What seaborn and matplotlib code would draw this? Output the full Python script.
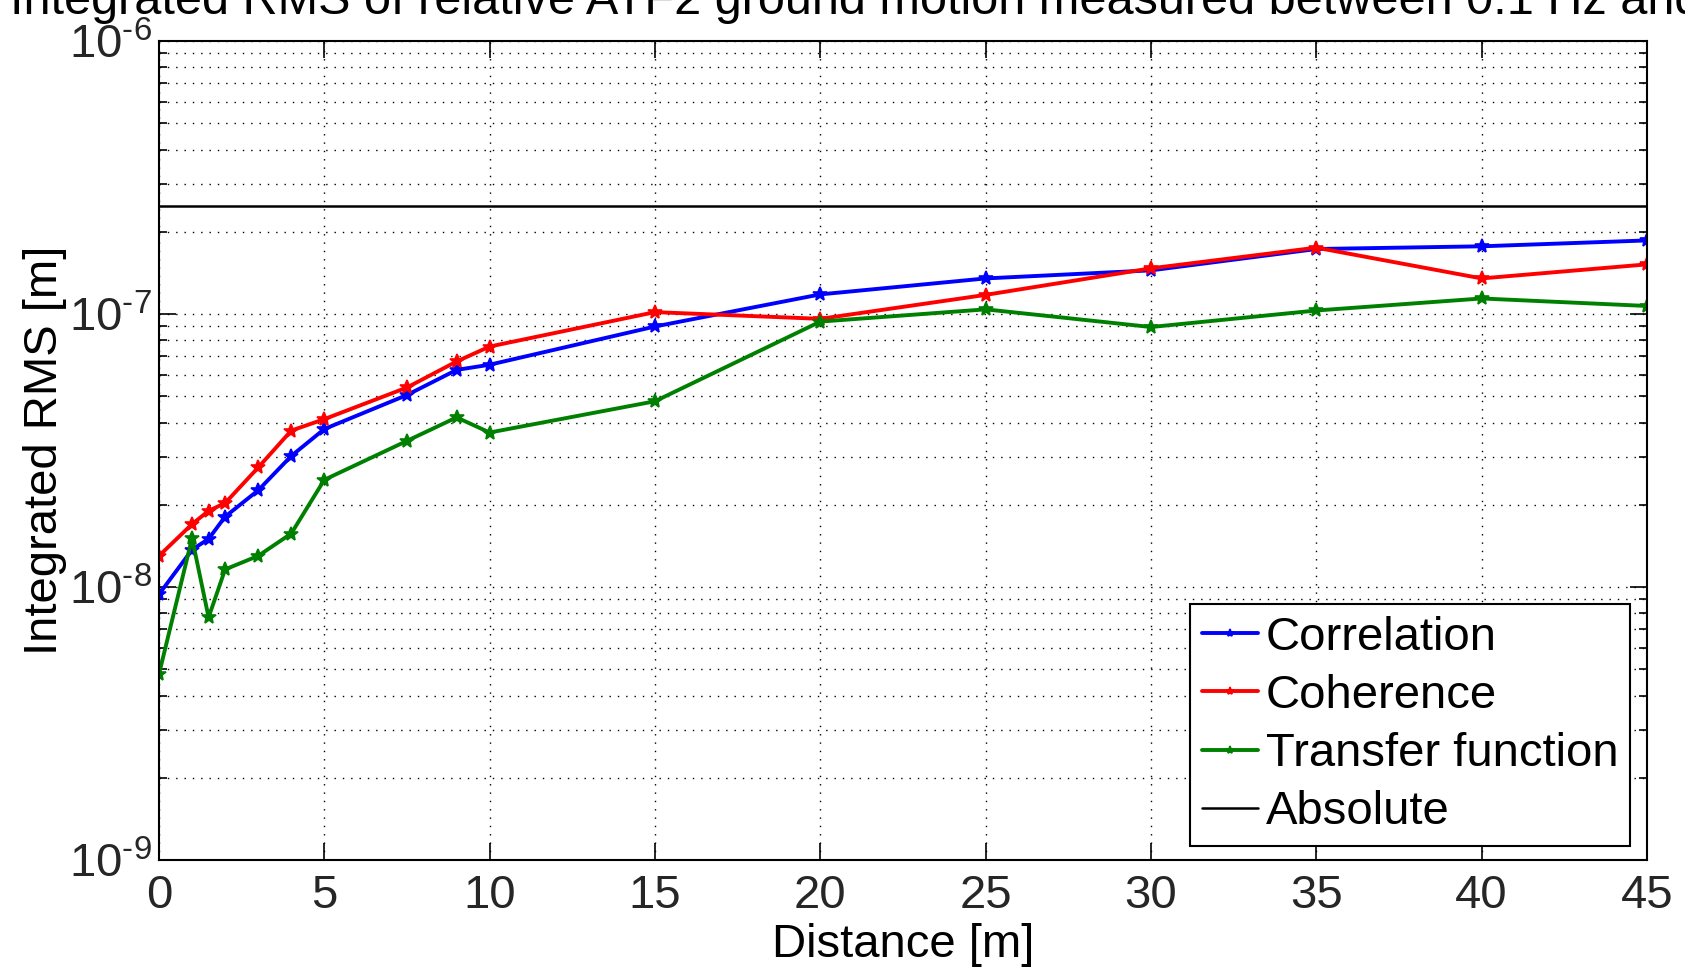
import matplotlib
matplotlib.use("Agg")
import matplotlib.pyplot as plt
from matplotlib.ticker import FixedLocator, FuncFormatter, LogLocator, NullFormatter
import numpy as np
import pandas as pd
import seaborn as sns

# Sensor separation [m]
distance = [0, 1, 1.5, 2, 3, 4, 5, 7.5, 9, 10, 15, 20, 25, 30, 35, 40, 45]

# Integrated RMS of relative motion [m] for each estimation method
correlation = [9.4e-9, 1.37e-8, 1.50e-8, 1.81e-8, 2.26e-8, 3.02e-8, 3.79e-8, 5.05e-8,
               6.24e-8, 6.52e-8, 9.0e-8, 1.18e-7, 1.35e-7, 1.445e-7, 1.73e-7, 1.77e-7, 1.86e-7]
coherence = [1.30e-8, 1.70e-8, 1.90e-8, 2.03e-8, 2.74e-8, 3.74e-8, 4.12e-8, 5.38e-8,
             6.70e-8, 7.60e-8, 1.016e-7, 9.6e-8, 1.175e-7, 1.47e-7, 1.75e-7, 1.35e-7, 1.52e-7]
transfer_function = [4.8e-9, 1.51e-8, 7.74e-9, 1.16e-8, 1.30e-8, 1.57e-8, 2.47e-8, 3.43e-8,
                     4.18e-8, 3.68e-8, 4.79e-8, 9.38e-8, 1.04e-7, 8.96e-8, 1.03e-7, 1.14e-7, 1.07e-7]

# Integrated RMS of the absolute ground motion [m]
absolute_rms = 2.48e-7

series_names = ["Correlation", "Coherence", "Transfer function"]
series_values = [correlation, coherence, transfer_function]
series_colors = ["#0000ff", "#ff0000", "#008000"]

x_ticks = [0, 5, 10, 15, 20, 25, 30, 35, 40, 45]
y_range = (1e-9, 1e-6)

title_text = "Integrated RMS of relative ATF2 ground motion measured between 0.1 Hz and 100 Hz"

sns.set_theme(style="white")
plt.rcParams["font.family"] = ["Liberation Sans", "DejaVu Sans"]
plt.rcParams["mathtext.fontset"] = "custom"
plt.rcParams["mathtext.rm"] = "Liberation Sans"
plt.rcParams["mathtext.default"] = "regular"

FS = 34

fig = plt.figure(figsize=(16.85, 9.67), dpi=100)
fig.patch.set_facecolor("white")
ax = fig.add_axes([159 / 1685, 1 - 860 / 967, 1488 / 1685, 819 / 967])
ax.set_facecolor("white")

for name, vals, col in zip(series_names, series_values, series_colors):
    sns.lineplot(x=distance, y=vals, ax=ax, color=col, label=name,
                 marker="*", markersize=10, markeredgewidth=1.2,
                 markeredgecolor=col, linewidth=2.8)

ax.axhline(absolute_rms, color="black", linewidth=1.8, label="Absolute")

ax.set_yscale("log")
ax.set_xlim(0, 45)
ax.set_ylim(*y_range)

ax.xaxis.set_major_locator(FixedLocator(x_ticks))
ax.yaxis.set_major_locator(LogLocator(base=10, numticks=10))
ax.yaxis.set_minor_locator(LogLocator(base=10, subs=np.arange(2, 10), numticks=20))
ax.yaxis.set_minor_formatter(NullFormatter())
ax.yaxis.set_major_formatter(FuncFormatter(
    lambda v, pos: r"$10^{\text{-%d}}$" % abs(int(round(np.log10(v))))))

grid_kw = dict(color="black", linestyle=(0, (1, 5)), linewidth=1.0)
ax.grid(True, which="major", axis="both", **grid_kw)
ax.grid(True, which="minor", axis="y", **grid_kw)

for sp in ax.spines.values():
    sp.set_visible(True)
    sp.set_color("black")
    sp.set_linewidth(1.5)

ax.tick_params(which="both", direction="in", top=True, right=True,
               bottom=True, left=True, color="black", width=1.2)
ax.tick_params(which="major", length=12, labelsize=FS)
ax.tick_params(which="minor", length=6)
ax.tick_params(axis="x", which="major", pad=10)
ax.tick_params(axis="y", which="major", pad=5)

ax.set_xlabel("Distance [m]", fontsize=FS, color="black")
ax.set_ylabel("Integrated RMS [m]", fontsize=FS, color="black")
ax.xaxis.set_label_coords(0.5, -0.077)
ax.yaxis.set_label_coords(-0.062, 0.5)

leg = ax.legend(loc="upper right", bbox_to_anchor=(1630 / 1685, 1 - 604 / 967),
                bbox_transform=fig.transFigure, fontsize=FS, frameon=True,
                fancybox=False, framealpha=1, edgecolor="black",
                handlelength=1.2, handletextpad=0.15, labelspacing=0.3,
                borderpad=0.25, borderaxespad=0, numpoints=1, markerscale=0.6)
leg.get_frame().set_linewidth(1.5)
for t in leg.get_texts():
    t.set_color("black")

# Title sits partly above the top edge of the canvas
fig.text(10 / 1685, 1 - 14.5 / 967, title_text, ha="left", va="baseline",
         fontsize=35, color="black")

fig.savefig("out.png", dpi=100, facecolor="white")
